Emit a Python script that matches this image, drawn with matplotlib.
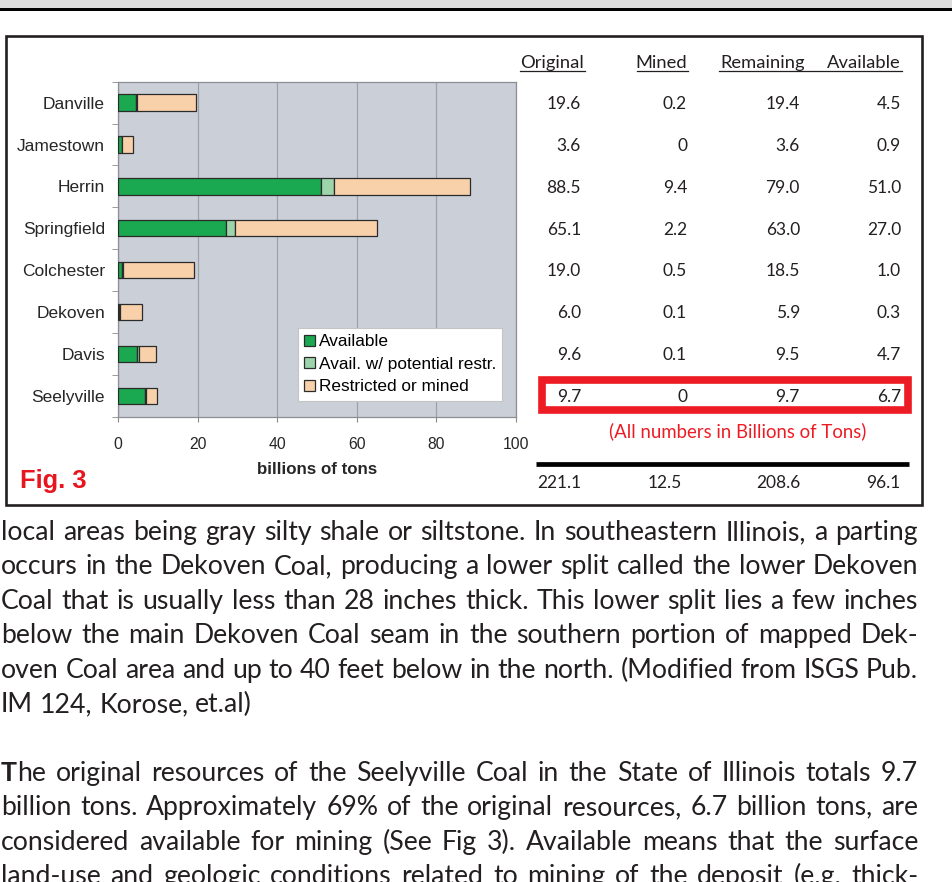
import matplotlib
matplotlib.use("Agg")
import matplotlib.pyplot as plt
import matplotlib.transforms as mtransforms
from matplotlib.patches import Rectangle, Patch
import numpy as np

# ---- data ----
seams = ['Danville', 'Jamestown', 'Herrin', 'Springfield',
         'Colchester', 'Dekoven', 'Davis', 'Seelyville']
original = [19.6, 3.6, 88.5, 65.1, 19.0, 6.0, 9.6, 9.7]
mined = [0.2, 0, 9.4, 2.2, 0.5, 0.1, 0.1, 0]
remaining = [19.4, 3.6, 79.0, 63.0, 18.5, 5.9, 9.5, 9.7]
available = [4.5, 0.9, 51.0, 27.0, 1.0, 0.3, 4.7, 6.7]
# thin light-green segment
avail_restr = [0.3, 0.1, 3.3, 2.4, 0.1, 0.1, 0.4, 0.3]
restricted = [o - a - p for o, a, p in zip(original, available, avail_restr)]

columns = ['Original', 'Mined', 'Remaining', 'Available']
legend_labels = ['Available', 'Avail. w/ potential restr.', 'Restricted or mined']

para1 = [
    "local areas being gray silty shale or siltstone.  In southeastern Illinois, a parting",
    "occurs in the Dekoven Coal, producing a lower split called the lower Dekoven",
    "Coal that is usually less than 28 inches thick. This lower split lies a few inches",
    "below the main Dekoven Coal seam in the southern portion of mapped Dek-",
    "oven Coal area and up to 40 feet below in the north. (Modified from ISGS Pub.",
    "IM 124, Korose, et.al)",
]
para2 = [
    "The original resources of the Seelyville Coal in the State of Illinois totals 9.7",
    "billion tons.  Approximately 69% of the original resources, 6.7 billion tons, are",
    "considered available for mining (See Fig 3).   Available means that the surface",
    "land-use and geologic conditions related to mining of the deposit (e.g. thick-",
]

W, H = 952, 882
fig = plt.figure(figsize=(W / 100, H / 100), dpi=100)

# overlay axes in pixel units for the page decoration
ax0 = fig.add_axes([0, 0, 1, 1])
ax0.set_xlim(0, W)
ax0.set_ylim(H, 0)
ax0.axis('off')

ax0.add_patch(Rectangle((0, 0), W, 7.5, color='#dcdcdc', lw=0))
ax0.add_patch(Rectangle((0, 8), W, 3.3, color='black', lw=0))
ax0.add_patch(Rectangle((6, 36), 915.5, 469, fill=False, ec='#231f20', lw=1.9))

# ---- bar chart ----
ax = fig.add_axes([118.3 / W, 1 - 416.7 / H, 397.7 / W, 335 / H])
y = np.arange(len(seams))
colors = ['#1aa850', '#9dd4aa', '#f8d0aa']
left = np.zeros(len(seams))
for vals, col, lab in zip([available, avail_restr, restricted], colors, legend_labels):
    ax.barh(y, vals, left=left, height=0.39, color=col, edgecolor='#2b2b2b',
            linewidth=0.9, label=lab, zorder=3)
    left += np.array(vals)

ax.set_xlim(0, 100)
ax.set_ylim(7.5, -0.5)
ax.set_facecolor('#cbcfd7')
ax.xaxis.grid(True, color='#9da1a8', lw=0.9)
ax.set_axisbelow(True)
ax.set_xticks(range(0, 101, 20))
ax.set_yticks(y)
ax.set_yticklabels(seams)
ax.set_yticks(np.arange(-0.5, 8, 1), minor=True)
ax.tick_params(axis='y', which='major', length=0, pad=9.5, labelsize=12.5, labelcolor='#262626')
ax.tick_params(axis='y', which='minor', length=4, color='#8a8a8a')
ax.tick_params(axis='x', length=3.5, color='#8a8a8a', pad=11, labelsize=11.3, labelcolor='#262626')
for s in ax.spines.values():
    s.set_color('#8c8f94')
    s.set_linewidth(0.9)
for lab in ax.get_xticklabels() + ax.get_yticklabels():
    lab.set_family(['Liberation Sans', 'DejaVu Sans'])

handles = [Patch(facecolor=c, edgecolor='#2b2b2b', lw=0.9) for c in colors]
leg = ax.legend(handles, legend_labels, loc='upper left',
                bbox_to_anchor=(297.7 / W, 1 - 328.3 / H), bbox_transform=fig.transFigure,
                borderaxespad=0, borderpad=0.36, labelspacing=0.43, handletextpad=0.25,
                handlelength=0.62, handleheight=0.62, fancybox=False, framealpha=1,
                edgecolor='#c4c4c4', prop={'family': 'Liberation Sans', 'size': 12.4})
leg.get_frame().set_linewidth(0.8)

ax0.text(317, 470, 'billions of tons', ha='center', va='center', fontsize=12.2,
         weight='bold', family='Liberation Sans', color='#262626')
ax0.text(20, 481, 'Fig. 3', ha='left', va='center', fontsize=18.4, weight='bold',
         family='Liberation Sans', color='#e8141e')

# ---- table ----
tfont = ['Lato', 'DejaVu Sans']
tcol = '#231f20'
head_x = [584, 687, 805, 901]
for hx, name in zip(head_x, columns):
    ax0.text(hx, 68, name, ha='right', va='baseline', fontsize=13.2, family=tfont, color=tcol)
for x0, x1 in [(520, 585), (637, 688), (719, 902)]:
    ax0.plot([x0, x1], [71, 71], color=tcol, lw=0.9)

row_tr = mtransforms.blended_transform_factory(ax0.transData, ax.transData)
val_x = [581, 687, 800, 901]


def fmt(v):
    return '0' if v == 0 else f'{v:.1f}'


for i in range(len(seams)):
    for vx, col in zip(val_x, [original, mined, remaining, available]):
        ax0.text(vx, i + 0.03, fmt(col[i]), transform=row_tr, ha='right', va='center',
                 fontsize=12.5, family=tfont, color=tcol)

ax0.add_patch(Rectangle((541.5, 379.6), 366.5, 30.4, fill=False, ec='#ed1c24', lw=5.5))
ax0.text(738, 431, '(All numbers in Billions of Tons)', ha='center', va='center',
         fontsize=13.4, family=tfont, color='#ed1c24')

ax0.plot([536, 909], [463.5, 463.5], color='black', lw=3.4, solid_capstyle='butt')
tot_x = [581, 682, 800, 900]
for tx, col in zip(tot_x, [original, mined, remaining, available]):
    ax0.text(tx, 483, f'{sum(col):.1f}', ha='right', va='center',
             fontsize=12.5, family=tfont, color=tcol)

# ---- body text (justified) ----
renderer = fig.canvas.get_renderer()
bfont = ['Lato', 'DejaVu Sans']


def text_w(s, fs, weight='normal'):
    t = ax0.text(0, 0, s, fontsize=fs, family=bfont, weight=weight)
    w = t.get_window_extent(renderer).width
    t.remove()
    return w


x_left, x_right = 1, 918
fs = 17.0
ratios = []
for ln in para1[:-1] + para2:
    ratios.append((x_right - x_left) / text_w(' '.join(ln.split()), fs))
fs = fs * min(ratios) * 0.995


def draw_line(line, yb, justify, bold_first=False):
    words = line.split()
    widths = []
    for k, w in enumerate(words):
        if k == 0 and bold_first:
            widths.append(text_w(w[0], fs, 'bold') + text_w(w[1:], fs))
        else:
            widths.append(text_w(w, fs))
    if justify and len(words) > 1:
        gap = (x_right - x_left - sum(widths)) / (len(words) - 1)
    else:
        gap = text_w('a a', fs) - 2 * text_w('a', fs)
    x = x_left
    for k, (w, ww) in enumerate(zip(words, widths)):
        if k == 0 and bold_first:
            ax0.text(x, yb, w[0], fontsize=fs, family=bfont, weight='bold',
                     va='baseline', color=tcol)
            ax0.text(x + text_w(w[0], fs, 'bold'), yb, w[1:], fontsize=fs, family=bfont,
                     va='baseline', color=tcol)
        else:
            ax0.text(x, yb, w, fontsize=fs, family=bfont, va='baseline', color=tcol)
        x += ww + gap


lh = 34.4
yb = 540
for k, ln in enumerate(para1):
    draw_line(ln, yb + k * lh, justify=(k < len(para1) - 1))
yb2 = yb + (len(para1) + 1) * lh
for k, ln in enumerate(para2):
    draw_line(ln, yb2 + k * lh, justify=True, bold_first=(k == 0))

fig.savefig('out.png', dpi=100)
